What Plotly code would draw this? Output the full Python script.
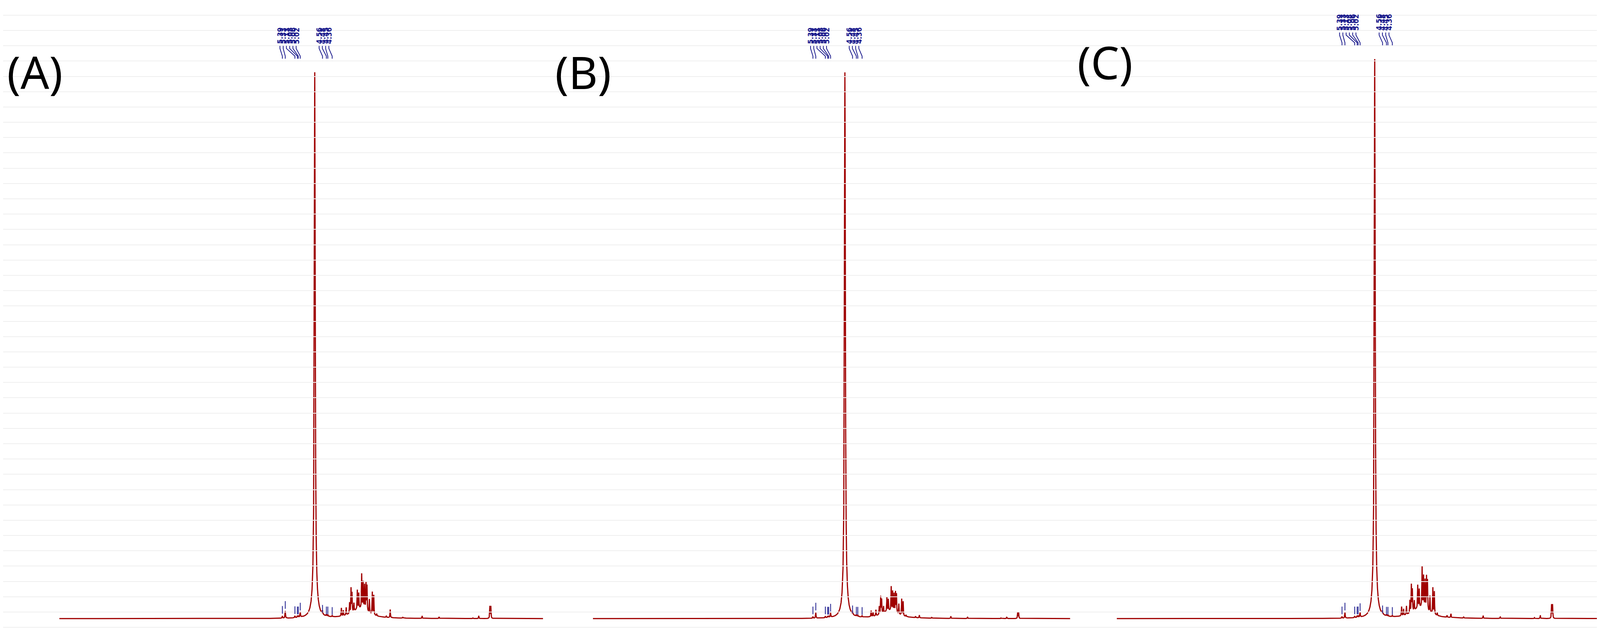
import numpy as np
import plotly.graph_objects as go

# ---------------- data ----------------
panel_titles = ["(A)", "(B)", "(C)"]
label_group1 = [5.39, 5.33, 5.13, 5.08, 5.06, 5.02]
label_group2 = [4.56, 4.48, 4.45, 4.36]
label_heights_A = [0.4, 1.3, 0.35, 0.3, 0.3, 1.0, 0.6, 0.3, 0.3, 0.2]
label_heights_B = [0.3, 1.0, 0.3, 0.25, 0.25, 0.8, 0.5, 0.25, 0.25, 0.2]
label_heights_C = [0.3, 1.0, 0.3, 0.3, 0.3, 0.9, 0.5, 0.25, 0.25, 0.2]

water_ppm = 4.72
water_height = [100.0, 100.0, 102.4]

mult_ppm = [4.17, 4.13, 4.07, 4.00, 3.97, 3.95, 3.91, 3.84, 3.81, 3.75, 3.72, 3.69, 3.66,
            3.64, 3.59, 3.53, 3.50, 3.44, 3.24, 3.16, 2.90, 2.50, 2.15, 1.45, 1.33, 1.10, 1.08]
mult_A = [1.5, 1.0, 1.4, 2.0, 4.5, 3.5, 1.5, 3.5, 2.8, 6.3, 4.9, 4.5, 5.0,
          4.6, 2.5, 4.1, 3.6, 0.4, 0.3, 1.5, 0.2, 0.45, 0.3, 0.1, 0.5, 2.2, 2.2]
mult_B = [1.1, 0.8, 1.1, 1.5, 3.2, 2.6, 1.2, 2.6, 2.1, 4.4, 3.6, 3.3, 3.7,
          3.4, 1.9, 3.0, 2.6, 0.3, 0.25, 0.5, 0.2, 0.4, 0.3, 0.1, 0.3, 1.1, 1.1]
mult_C = [1.7, 1.2, 1.6, 2.3, 5.0, 4.0, 1.8, 4.2, 3.3, 7.4, 5.8, 5.2, 6.0,
          5.4, 3.0, 4.8, 4.2, 0.5, 0.35, 0.7, 0.25, 0.5, 0.35, 0.15, 0.6, 2.5, 2.5]
hump_height = [1.8, 1.4, 2.0]

ppm_range = [10.0, 0.0]

# ---------------- build ----------------
x = np.linspace(ppm_range[1], ppm_range[0], 12000)

def lor(c, h, w):
    return h * w**2 / ((x - c)**2 + w**2)

def spectrum(i, mult, lab_h):
    y = lor(water_ppm, water_height[i] - 4, 0.011) + lor(water_ppm, 4, 0.05)
    for c, h in zip(mult_ppm, mult):
        y += lor(c, h, 0.005)
    y += lor(3.78, hump_height[i], 0.2)
    for c, h in zip(label_group1 + label_group2, lab_h):
        y += lor(c, h, 0.006)
    return y

domains = [[0.035, 0.336], [0.367, 0.664], [0.693, 0.997]]
title_x = [0.002, 0.343, 0.668]
title_y = [0.893, 0.893, 0.908]
label_top = [0.963, 0.963, 0.984]
mults = [mult_A, mult_B, mult_C]
labhs = [label_heights_A, label_heights_B, label_heights_C]

RED = "#a00000"
BLUE = "#1a1a8c"
fig = go.Figure()
ann = []
shapes = []
ymin, ymax = -4.3, 112.6

for i in range(3):
    n = "" if i == 0 else str(i + 1)
    xa, ya = "x" + n, "y" + n
    y = spectrum(i, mults[i], labhs[i])
    fig.add_trace(go.Scatter(x=x, y=y, mode="lines", line=dict(color=RED, width=3),
                             xaxis=xa, yaxis=ya, showlegend=False, hoverinfo="skip"))
    ann.append(dict(text=panel_titles[i], x=title_x[i], y=title_y[i], xref="paper", yref="paper",
                    xanchor="left", yanchor="middle", showarrow=False,
                    font=dict(size=115, family="Liberation Sans Narrow, Noto Sans", color="black")))
    peaks = label_group1 + label_group2
    spacing = 0.067
    lab_x = [label_group1[0] + 0.05 - k * spacing for k in range(len(label_group1))] + \
            [label_group2[0] + 0.07 - k * spacing for k in range(len(label_group2))]
    ly = label_top[i]
    for lx, p, h in zip(lab_x, peaks, labhs[i]):
        ann.append(dict(text=f"<b>{p:.2f}</b>", x=lx, y=ly, xref=xa, yref="paper", textangle=-90,
                        showarrow=False, font=dict(size=19, family="DejaVu Sans Condensed, DejaVu Sans", color=BLUE)))
        y_a = ly - 0.03
        y_b = y_a - 0.004
        y_c = y_b - 0.012
        y_d = y_c - 0.004
        shapes.append(dict(type="path", xref=xa, yref="paper",
                           path=f"M {lx} {y_a} L {lx} {y_b} L {p} {y_c} L {p} {y_d}",
                           line=dict(color=BLUE, width=2)))
        shapes.append(dict(type="line", xref=xa, yref=ya, x0=p, x1=p,
                           y0=h + 0.5, y1=h + 1.9, line=dict(color=BLUE, width=2)))
    fig.layout["xaxis" + n] = dict(domain=domains[i], range=ppm_range, visible=False, anchor=ya)
    fig.layout["yaxis" + n] = dict(domain=[0, 1], range=[ymin, ymax], visible=False, anchor=xa)

fig.add_trace(go.Scatter(x=[0.5], y=[-100], mode="markers", xaxis="x4", yaxis="y4",
                         showlegend=False, hoverinfo="skip"))
fig.update_layout(
    xaxis4=dict(domain=[0, 1], range=[0, 1], visible=False, anchor="y4"),
    yaxis4=dict(domain=[0, 1], range=[ymin, ymax], showgrid=True, gridcolor="#efefef",
                gridwidth=1.5, dtick=2.8, tick0=-1.6, zeroline=False, showticklabels=False,
                showline=False, anchor="x4"),
    width=4114, height=1636, margin=dict(l=0, r=0, t=0, b=0),
    plot_bgcolor="rgba(0,0,0,0)", paper_bgcolor="white",
    annotations=ann, shapes=shapes,
)
fig.write_html("out.html")
